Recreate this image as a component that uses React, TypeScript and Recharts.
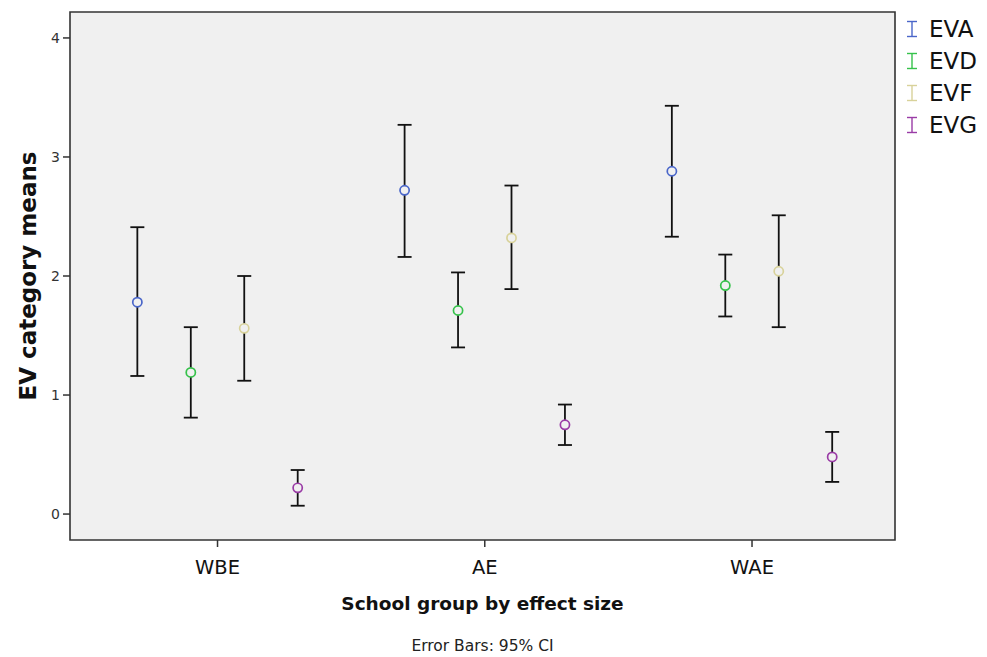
import { ScatterChart, Scatter, XAxis, YAxis, ErrorBar, ReferenceArea, CartesianGrid, Label } from "recharts"

const groups = ["WBE", "AE", "WAE"]
const seriesNames = ["EVA", "EVD", "EVF", "EVG"]
const seriesColors = ["#4a66c9", "#36c24b", "#d8d29a", "#9a3ca6"]

// means and 95% CI bounds, one value per school group
const evaMean = [1.78, 2.72, 2.88]
const evaLower = [1.16, 2.16, 2.33]
const evaUpper = [2.41, 3.27, 3.43]

const evdMean = [1.19, 1.71, 1.92]
const evdLower = [0.81, 1.4, 1.66]
const evdUpper = [1.57, 2.03, 2.18]

const evfMean = [1.56, 2.32, 2.04]
const evfLower = [1.12, 1.89, 1.57]
const evfUpper = [2.0, 2.76, 2.51]

const evgMean = [0.22, 0.75, 0.48]
const evgLower = [0.07, 0.58, 0.27]
const evgUpper = [0.37, 0.92, 0.69]

const yTicks = [0, 1, 2, 3, 4]

const FONT = "'DejaVu Sans', sans-serif"
const PLOT_BG = "#f0f0f0"
const X_DOMAIN: [number, number] = [0.448, 3.535]
const Y_DOMAIN: [number, number] = [-0.218, 4.218]
const dodge = [-0.3, -0.1, 0.1, 0.3]

const series = [
  { mean: evaMean, lower: evaLower, upper: evaUpper },
  { mean: evdMean, lower: evdLower, upper: evdUpper },
  { mean: evfMean, lower: evfLower, upper: evfUpper },
  { mean: evgMean, lower: evgLower, upper: evgUpper },
].map((s, i) => ({
  name: seriesNames[i],
  color: seriesColors[i],
  rows: groups.map((g, gi) => ({
    group: g,
    x: gi + 1 + dodge[i],
    y: s.mean[gi],
    err: [s.mean[gi] - s.lower[gi], s.upper[gi] - s.mean[gi]],
  })),
}))

const ring = (color: string) => (props: any) => (
  <circle cx={props.cx} cy={props.cy} r={4.6} fill={PLOT_BG} stroke={color} strokeWidth={1.7} />
)

function LegendBox() {
  return (
    <div style={{ position: "absolute", left: 902, top: 13, fontFamily: FONT }}>
      {seriesNames.map((name, i) => (
        <div key={name} style={{ display: "flex", alignItems: "center", height: 32 }}>
          <svg width={20} height={18}>
            <line x1={10} y1={1.5} x2={10} y2={16.5} stroke={seriesColors[i]} strokeWidth={1.4} />
            <line x1={5} y1={1.5} x2={15} y2={1.5} stroke={seriesColors[i]} strokeWidth={1.4} />
            <line x1={5} y1={16.5} x2={15} y2={16.5} stroke={seriesColors[i]} strokeWidth={1.4} />
          </svg>
          <span style={{ fontSize: 23, color: "#111", marginLeft: 7 }}>{name}</span>
        </div>
      ))}
    </div>
  )
}

export default function App() {
  return (
    <div style={{ position: "absolute", left: 0, top: 0, width: 987, height: 657, background: "#fff", fontFamily: FONT }}>
      <ScatterChart width={987} height={657} margin={{ top: 12, right: 92, bottom: 37, left: 12 }}>
        <CartesianGrid horizontal={false} vertical={false} fill={PLOT_BG} fillOpacity={1} />
        <XAxis
          type="number"
          dataKey="x"
          domain={X_DOMAIN}
          ticks={[1, 2, 3]}
          tickFormatter={(v) => groups[v - 1]}
          allowDataOverflow
          height={80}
          axisLine={false}
          tickSize={7}
          tickMargin={13}
          tickLine={{ stroke: "#333", strokeWidth: 1.5 }}
          tick={{ fill: "#111", fontSize: 19.5, fontFamily: FONT }}
        >
          <Label
            content={({ viewBox }: any) => (
              <text x={viewBox.x + viewBox.width / 2} y={viewBox.y + 70} textAnchor="middle" fontSize={18.5} fontWeight="bold" fill="#111" fontFamily={FONT}>
                School group by effect size
              </text>
            )}
          />
          <Label
            content={({ viewBox }: any) => (
              <text x={viewBox.x + viewBox.width / 2} y={viewBox.y + 111} textAnchor="middle" fontSize={15.5} fill="#222" fontFamily={FONT}>
                Error Bars: 95% CI
              </text>
            )}
          />
        </XAxis>
        <YAxis
          type="number"
          dataKey="y"
          domain={Y_DOMAIN}
          ticks={yTicks}
          allowDataOverflow
          width={58}
          axisLine={false}
          tickSize={7}
          tickMargin={3}
          tickLine={{ stroke: "#333", strokeWidth: 1.5 }}
          tick={{ fill: "#333", fontSize: 14, fontFamily: FONT }}
        >
          <Label
            content={({ viewBox }: any) => {
              const cx = viewBox.x + 16
              const cy = viewBox.y + viewBox.height / 2
              return (
                <text x={cx} y={cy} transform={`rotate(-90 ${cx} ${cy})`} textAnchor="middle" dominantBaseline="central" fontSize={23} fontWeight="bold" fill="#111" fontFamily={FONT}>
                  EV category means
                </text>
              )
            }}
          />
        </YAxis>
        <ReferenceArea
          x1={X_DOMAIN[0]}
          x2={X_DOMAIN[1]}
          y1={Y_DOMAIN[0]}
          y2={Y_DOMAIN[1]}
          fill="none"
          stroke="#333"
          strokeWidth={1.6}
          ifOverflow="visible"
        />
        {series.map((s) => (
          <Scatter key={s.name} name={s.name} data={s.rows} shape={ring(s.color)} isAnimationActive={false}>
            <ErrorBar dataKey="err" direction="y" width={7} stroke="#111" strokeWidth={1.8} isAnimationActive={false} />
          </Scatter>
        ))}
      </ScatterChart>
      <LegendBox />
    </div>
  )
}
